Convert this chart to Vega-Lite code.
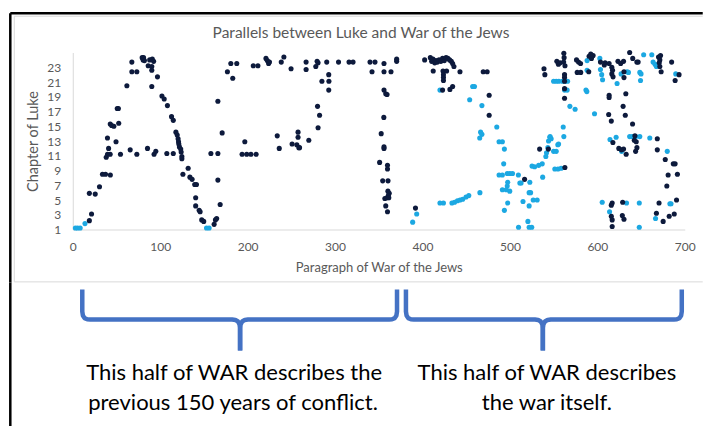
{
"$schema": "https://vega.github.io/schema/vega-lite/v6.json",
"background": "white",
"padding": {"left": 8.75, "top": 11.5, "right": 0, "bottom": 0},
"config": {"view": {"stroke": null}, "font": "Lato"},
"spacing": -4,
"vconcat": [
{
"width": 612, "height": 177,
"encoding": {
"x": {"field": "x", "type": "quantitative", "scale": {"domain": [0, 700], "nice": false},
 "axis": {"values": [0,100,200,300,400,500,600,700], "title": "Paragraph of War of the Jews", "grid": false, "ticks": false, "labelFlush": false, "labelOverlap": false, "domainColor": "#d9d9d9", "domainWidth": 1, "labelColor": "#595959", "labelFontSize": 12, "labelPadding": 12, "labelFont": "Lato", "titleColor": "#595959", "titleFontSize": 13, "titleFontWeight": "normal", "titleFont": "Lato", "titlePadding": 9}},
"y": {"field": "y", "type": "quantitative", "scale": {"domain": [1, 25], "nice": false, "zero": false},
 "axis": {"values": [1,3,5,7,9,11,13,15,17,19,21,23], "title": "Chapter of Luke", "grid": false, "ticks": false, "labelFlush": false, "labelOverlap": false, "domainColor": "#d9d9d9", "domainWidth": 1, "labelColor": "#595959", "labelFontSize": 12, "labelPadding": 12, "labelFont": "Lato", "titleColor": "#595959", "titleFontSize": 14.5, "titleFontWeight": "normal", "titleFont": "Lato", "titlePadding": 6}}
},
"layer": [
{
"data": {"values": [
{"x":-66.86,"x2":720.57,"y":29.92,"y2":29.92},
{"x":-66.86,"x2":720.57,"y":-6.1,"y2":-6.1},
{"x":-66.86,"x2":-66.86,"y":29.92,"y2":-6.1}
]},
"mark": {"type": "rule", "color": "#d9d9d9", "strokeWidth": 1},
"encoding": {"x2": {"field": "x2"}, "y2": {"field": "y2"}}
},
{
"data": {"values": [
{"x":-71.43,"x2":720.57,"y":30.33,"y2":30.33},
{"x":-71.43,"x2":-71.43,"y":30.33,"y2":-6.2}
]},
"mark": {"type": "rule", "color": "#000000", "strokeWidth": 2.5},
"encoding": {"x2": {"field": "x2"}, "y2": {"field": "y2"}}
},
{
"data": {"values": [
{"x":329.7,"y":27.6,"t":"Parallels between Luke and War of the Jews"}
]},
"mark": {"type": "text", "fontSize": 15.5, "font": "Lato", "color": "#595959", "align": "center", "baseline": "middle"},
"encoding": {"text": {"field": "t"}}
},
{
"data": {"values": [
{"x":3,"y":1.2,"s":"l"},{"x":5.5,"y":1.2,"s":"l"},{"x":8.5,"y":1.2,"s":"l"},{"x":14,"y":1.8,"s":"l"},{"x":153,"y":1.2,"s":"l"},{"x":156,"y":1.2,"s":"l"},
{"x":388.8,"y":2.0,"s":"l"},{"x":393.4,"y":3.1,"s":"l"},
{"x":420,"y":19.9,"s":"l"},{"x":457.4,"y":20.4,"s":"l"},{"x":459.5,"y":20.4,"s":"l"},{"x":454,"y":18.6,"s":"l"},{"x":468,"y":17.8,"s":"l"},{"x":485,"y":14.9,"s":"l"},{"x":466.5,"y":14.2,"s":"l"},{"x":468,"y":13.9,"s":"l"},{"x":465.5,"y":13.4,"s":"l"},{"x":487.6,"y":12.9,"s":"l"},{"x":491.4,"y":12.9,"s":"l"},{"x":493.7,"y":11.9,"s":"l"},{"x":492.9,"y":9.9,"s":"l"},{"x":487.6,"y":8.4,"s":"l"},{"x":491.4,"y":8.4,"s":"l"},{"x":497,"y":8.6,"s":"l"},{"x":500,"y":8.6,"s":"l"},{"x":503,"y":8.6,"s":"l"},{"x":509.7,"y":8.4,"s":"l"},{"x":512.8,"y":7.3,"s":"l"},{"x":511.4,"y":7.3,"s":"l"},{"x":497.5,"y":7.4,"s":"l"},{"x":497,"y":6.9,"s":"l"},{"x":495.8,"y":6.4,"s":"l"},{"x":491.4,"y":6.4,"s":"l"},{"x":499.8,"y":6.2,"s":"l"},{"x":465.7,"y":6.0,"s":"l"},{"x":420,"y":4.6,"s":"l"},{"x":424,"y":4.6,"s":"l"},{"x":433.7,"y":4.6,"s":"l"},{"x":436.7,"y":4.7,"s":"l"},{"x":440,"y":4.9,"s":"l"},{"x":443,"y":5.0,"s":"l"},{"x":446,"y":5.1,"s":"l"},{"x":449.8,"y":5.4,"s":"l"},{"x":453,"y":5.6,"s":"l"},{"x":497.5,"y":4.6,"s":"l"},{"x":493.7,"y":3.6,"s":"l"},{"x":509.9,"y":1.3,"s":"l"},{"x":515,"y":4.8,"s":"l"},{"x":522,"y":6.0,"s":"l"},{"x":523.7,"y":6.0,"s":"l"},{"x":522.8,"y":7.4,"s":"l"},{"x":522,"y":4.2,"s":"l"},{"x":520.6,"y":2.1,"s":"l"},{"x":522,"y":1.3,"s":"l"},{"x":525,"y":1.3,"s":"l"},{"x":526.7,"y":5.0,"s":"l"},{"x":531.2,"y":5.0,"s":"l"},{"x":525.3,"y":9.6,"s":"l"},{"x":528.3,"y":9.5,"s":"l"},{"x":532.9,"y":9.7,"s":"l"},{"x":537,"y":9.9,"s":"l"},{"x":537.5,"y":8.1,"s":"l"},{"x":541.1,"y":10.9,"s":"l"},{"x":541.9,"y":11.4,"s":"l"},{"x":543.4,"y":12.1,"s":"l"},{"x":544.2,"y":13.0,"s":"l"},{"x":547.2,"y":13.3,"s":"l"},{"x":545.7,"y":13.5,"s":"l"},{"x":550,"y":11.6,"s":"l"},{"x":553,"y":11.6,"s":"l"},{"x":551.4,"y":9.2,"s":"l"},{"x":555,"y":9.2,"s":"l"},{"x":558.6,"y":9.3,"s":"l"},{"x":554.8,"y":12.5,"s":"l"},{"x":546,"y":13.6,"s":"l"},{"x":555.7,"y":12.6,"s":"l"},{"x":561,"y":14.9,"s":"l"},{"x":561.7,"y":13.6,"s":"l"},
{"x":550,"y":21.1,"s":"l"},{"x":553,"y":21.1,"s":"l"},{"x":556,"y":21.1,"s":"l"},{"x":560,"y":21.1,"s":"l"},{"x":563,"y":21.1,"s":"l"},{"x":566,"y":21.1,"s":"l"},{"x":562.5,"y":19.9,"s":"l"},{"x":565.5,"y":19.9,"s":"l"},{"x":568.6,"y":17.7,"s":"l"},{"x":574.6,"y":17.3,"s":"l"},{"x":587,"y":19.9,"s":"l"},{"x":588,"y":19.7,"s":"l"},{"x":596.8,"y":16.7,"s":"l"},{"x":588.3,"y":23.9,"s":"l"},{"x":602.9,"y":24.2,"s":"l"},{"x":588.3,"y":22.6,"s":"l"},{"x":603.6,"y":22.7,"s":"l"},{"x":605,"y":22.0,"s":"l"},{"x":606,"y":21.3,"s":"l"},{"x":622.6,"y":20.8,"s":"l"},{"x":627.2,"y":22.1,"s":"l"},{"x":634,"y":22.4,"s":"l"},{"x":635.6,"y":22.3,"s":"l"},{"x":648.6,"y":22.3,"s":"l"},{"x":650,"y":22.1,"s":"l"},{"x":649.4,"y":21.2,"s":"l"},{"x":653,"y":24.7,"s":"l"},{"x":662.3,"y":24.7,"s":"l"},{"x":663.8,"y":23.7,"s":"l"},{"x":666,"y":23.4,"s":"l"},{"x":667.6,"y":23.1,"s":"l"},{"x":689.7,"y":22.1,"s":"l"},{"x":614.5,"y":13.2,"s":"l"},{"x":621.5,"y":13.5,"s":"l"},{"x":637,"y":13.6,"s":"l"},{"x":640,"y":13.6,"s":"l"},{"x":644,"y":13.6,"s":"l"},{"x":648.6,"y":13.6,"s":"l"},{"x":660,"y":13.4,"s":"l"},{"x":680,"y":11.6,"s":"l"},{"x":627.8,"y":11.6,"s":"l"},{"x":605.6,"y":4.7,"s":"l"},{"x":614,"y":3.4,"s":"l"},{"x":633.4,"y":4.6,"s":"l"},{"x":648,"y":4.6,"s":"l"},{"x":666.6,"y":2.5,"s":"l"},{"x":683,"y":4.5,"s":"l"},{"x":684.3,"y":4.5,"s":"l"},{"x":648,"y":1.3,"s":"l"},
{"x":19,"y":2.2,"s":"d"},{"x":21.5,"y":3.1,"s":"d"},{"x":19,"y":5.9,"s":"d"},{"x":25.7,"y":5.8,"s":"d"},{"x":30.6,"y":6.8,"s":"d"},{"x":34,"y":8.5,"s":"d"},{"x":37.5,"y":8.5,"s":"d"},{"x":43,"y":8.4,"s":"d"},{"x":38.3,"y":10.8,"s":"d"},{"x":39.8,"y":11.2,"s":"d"},{"x":42.8,"y":11.2,"s":"d"},{"x":41,"y":12,"s":"d"},{"x":39.7,"y":13.4,"s":"d"},{"x":42.9,"y":15.3,"s":"d"},{"x":44.5,"y":15.1,"s":"d"},{"x":47,"y":15,"s":"d"},{"x":52.6,"y":15.4,"s":"d"},{"x":50.9,"y":17.4,"s":"d"},{"x":52.2,"y":17.4,"s":"d"},{"x":49.5,"y":12.9,"s":"d"},{"x":54.6,"y":11.2,"s":"d"},{"x":61.9,"y":20.5,"s":"d"},{"x":67.6,"y":23.7,"s":"d"},{"x":67.6,"y":22.4,"s":"d"},{"x":73.3,"y":22.4,"s":"d"},{"x":65.7,"y":11.8,"s":"d"},{"x":73.3,"y":11.2,"s":"d"},{"x":79.4,"y":24.3,"s":"d"},{"x":81,"y":24.3,"s":"d"},{"x":80.5,"y":24,"s":"d"},{"x":82,"y":23.9,"s":"d"},{"x":86.3,"y":23.2,"s":"d"},{"x":88,"y":24,"s":"d"},{"x":91,"y":24.1,"s":"d"},{"x":92.5,"y":23.8,"s":"d"},{"x":90.4,"y":23.1,"s":"d"},{"x":90.4,"y":22.6,"s":"d"},{"x":96.9,"y":21.7,"s":"d"},{"x":90.4,"y":20.4,"s":"d"},{"x":85.5,"y":12,"s":"d"},{"x":93,"y":11.2,"s":"d"},{"x":95,"y":11.6,"s":"d"},{"x":102,"y":19.1,"s":"d"},{"x":104.6,"y":18.7,"s":"d"},{"x":108.3,"y":17.8,"s":"d"},{"x":107.6,"y":11.3,"s":"d"},{"x":113,"y":16.3,"s":"d"},{"x":115,"y":15.8,"s":"d"},{"x":115,"y":11.3,"s":"d"},{"x":118,"y":14.2,"s":"d"},{"x":119.5,"y":13.8,"s":"d"},{"x":120.5,"y":13.3,"s":"d"},{"x":121,"y":12.9,"s":"d"},{"x":121.3,"y":12.6,"s":"d"},{"x":122,"y":12.2,"s":"d"},{"x":123.5,"y":11.9,"s":"d"},{"x":124,"y":11.5,"s":"d"},{"x":124.8,"y":10.9,"s":"d"},{"x":124.8,"y":10.6,"s":"d"},{"x":126,"y":8.5,"s":"d"},{"x":132,"y":9.3,"s":"d"},{"x":134,"y":8.1,"s":"d"},{"x":136.5,"y":7.8,"s":"d"},{"x":139.5,"y":7.1,"s":"d"},{"x":141.5,"y":7.1,"s":"d"},{"x":140.6,"y":5.3,"s":"d"},{"x":140.6,"y":4.2,"s":"d"},{"x":144.6,"y":3.6,"s":"d"},{"x":145.7,"y":3.4,"s":"d"},{"x":147.5,"y":2.3,"s":"d"},{"x":149.8,"y":2.1,"s":"d"},{"x":161.7,"y":1.7,"s":"d"},{"x":163.2,"y":2.3,"s":"d"},{"x":164.6,"y":2.5,"s":"d"},{"x":168.6,"y":4.4,"s":"d"},{"x":166,"y":7.7,"s":"d"},{"x":158,"y":11.3,"s":"d"},{"x":166,"y":11.3,"s":"d"},{"x":166,"y":18.4,"s":"d"},{"x":170.9,"y":14.1,"s":"d"},{"x":176.9,"y":22.4,"s":"d"},{"x":180.8,"y":23.5,"s":"d"},{"x":187.6,"y":23.5,"s":"d"},{"x":183,"y":21.5,"s":"d"},
{"x":206.5,"y":23.2,"s":"d"},{"x":211.8,"y":23.2,"s":"d"},{"x":221,"y":24.2,"s":"d"},{"x":222.5,"y":23.9,"s":"d"},{"x":224,"y":23.5,"s":"d"},{"x":225,"y":23.7,"s":"d"},{"x":241.5,"y":24.4,"s":"d"},{"x":238.5,"y":23.7,"s":"d"},{"x":249.7,"y":22.8,"s":"d"},{"x":266.9,"y":23.7,"s":"d"},{"x":266.9,"y":22.7,"s":"d"},{"x":278,"y":23.1,"s":"d"},{"x":279.5,"y":23.8,"s":"d"},{"x":280.6,"y":23.6,"s":"d"},{"x":290.5,"y":23.7,"s":"d"},{"x":285,"y":21.1,"s":"d"},{"x":293,"y":21.1,"s":"d"},{"x":292.8,"y":22.0,"s":"d"},{"x":292.8,"y":19.9,"s":"d"},{"x":304,"y":23.7,"s":"d"},{"x":316,"y":23.7,"s":"d"},{"x":320.6,"y":23.7,"s":"d"},{"x":340,"y":23.7,"s":"d"},{"x":345.7,"y":23.7,"s":"d"},{"x":356,"y":23.5,"s":"d"},{"x":370.5,"y":23.8,"s":"d"},{"x":370.5,"y":24.1,"s":"d"},{"x":342.3,"y":22.4,"s":"d"},{"x":356,"y":22.4,"s":"d"},{"x":364,"y":22.4,"s":"d"},{"x":356,"y":19.9,"s":"d"},{"x":358,"y":19.4,"s":"d"},{"x":359.5,"y":19.3,"s":"d"},{"x":355.8,"y":16.2,"s":"d"},{"x":352.8,"y":14,"s":"d"},{"x":356,"y":12,"s":"d"},{"x":356,"y":12.2,"s":"d"},{"x":351,"y":10.1,"s":"d"},{"x":360,"y":9.7,"s":"d"},{"x":360,"y":9.2,"s":"d"},{"x":354.5,"y":7.6,"s":"d"},{"x":360.6,"y":7.6,"s":"d"},{"x":360.5,"y":6.2,"s":"d"},{"x":362,"y":5.9,"s":"d"},{"x":361,"y":5.6,"s":"d"},{"x":359.5,"y":5.3,"s":"d"},{"x":357,"y":5.2,"s":"d"},{"x":361.5,"y":5.3,"s":"d"},{"x":358,"y":4.2,"s":"d"},{"x":360,"y":3.4,"s":"d"},{"x":280,"y":17.7,"s":"d"},{"x":282.3,"y":16.5,"s":"d"},{"x":280.6,"y":14.8,"s":"d"},{"x":270,"y":13.1,"s":"d"},{"x":257.7,"y":14.2,"s":"d"},{"x":257.7,"y":13.5,"s":"d"},{"x":250.9,"y":12.6,"s":"d"},{"x":256.3,"y":12.5,"s":"d"},{"x":258.6,"y":12.1,"s":"d"},{"x":259.4,"y":12.1,"s":"d"},{"x":233.9,"y":13.7,"s":"d"},{"x":236.2,"y":12.0,"s":"d"},{"x":196.8,"y":12.9,"s":"d"},{"x":193.7,"y":11.2,"s":"d"},{"x":199,"y":11.2,"s":"d"},{"x":203.8,"y":11.2,"s":"d"},{"x":209.7,"y":11.2,"s":"d"},
{"x":402.5,"y":24.0,"s":"d"},{"x":409,"y":24.3,"s":"d"},{"x":410.5,"y":23.8,"s":"d"},{"x":412,"y":24.1,"s":"d"},{"x":414,"y":23.6,"s":"d"},{"x":415.5,"y":23.9,"s":"d"},{"x":417,"y":23.7,"s":"d"},{"x":419,"y":24.0,"s":"d"},{"x":421,"y":23.8,"s":"d"},{"x":423,"y":24.2,"s":"d"},{"x":425,"y":23.9,"s":"d"},{"x":427,"y":24.3,"s":"d"},{"x":429,"y":24.2,"s":"d"},{"x":431,"y":24.0,"s":"d"},{"x":433,"y":23.8,"s":"d"},{"x":434.5,"y":23.5,"s":"d"},{"x":436,"y":23.1,"s":"d"},{"x":412.3,"y":22.5,"s":"d"},{"x":423.5,"y":22.5,"s":"d"},{"x":424,"y":22.0,"s":"d"},{"x":424,"y":21.6,"s":"d"},{"x":424,"y":21.2,"s":"d"},{"x":427.6,"y":22.5,"s":"d"},{"x":442.9,"y":22.4,"s":"d"},{"x":469.5,"y":22.4,"s":"d"},{"x":474,"y":22.4,"s":"d"},{"x":423,"y":19.9,"s":"d"},{"x":431.4,"y":20.0,"s":"d"},{"x":434.5,"y":20.4,"s":"d"},{"x":476.3,"y":19.2,"s":"d"},{"x":476.3,"y":16.5,"s":"d"},{"x":539,"y":22.8,"s":"d"},{"x":540,"y":22.0,"s":"d"},{"x":534,"y":11.9,"s":"d"},{"x":544,"y":11.9,"s":"d"},{"x":516.8,"y":7.8,"s":"d"},{"x":392,"y":3.9,"s":"d"},
{"x":553.7,"y":23.8,"s":"d"},{"x":555.5,"y":23.4,"s":"d"},{"x":557.4,"y":23.6,"s":"d"},{"x":561.7,"y":24.9,"s":"d"},{"x":562,"y":24.3,"s":"d"},{"x":561.5,"y":23.7,"s":"d"},{"x":563,"y":23.2,"s":"d"},{"x":562.5,"y":22.0,"s":"d"},{"x":562.5,"y":21.6,"s":"d"},{"x":562.5,"y":21.1,"s":"d"},{"x":562.5,"y":20.1,"s":"d"},{"x":562.5,"y":18.8,"s":"d"},{"x":576.2,"y":24.0,"s":"d"},{"x":578.5,"y":23.7,"s":"d"},{"x":580.8,"y":23.5,"s":"d"},{"x":577,"y":22.3,"s":"d"},{"x":581,"y":22.3,"s":"d"},{"x":590.6,"y":24.5,"s":"d"},{"x":592.5,"y":24.8,"s":"d"},{"x":593.3,"y":24.2,"s":"d"},{"x":595.2,"y":24.6,"s":"d"},{"x":590.2,"y":22.4,"s":"d"},{"x":603.6,"y":23.7,"s":"d"},{"x":608.9,"y":23.6,"s":"d"},{"x":613.5,"y":23.5,"s":"d"},{"x":608,"y":23.3,"s":"d"},{"x":616.6,"y":23.0,"s":"d"},{"x":617.4,"y":22.6,"s":"d"},{"x":616.6,"y":22.1,"s":"d"},{"x":618,"y":21.7,"s":"d"},{"x":623.6,"y":23.8,"s":"d"},{"x":626.7,"y":23.5,"s":"d"},{"x":630,"y":23.8,"s":"d"},{"x":630.5,"y":22.4,"s":"d"},{"x":630.5,"y":21.6,"s":"d"},{"x":637,"y":25.0,"s":"d"},{"x":640.5,"y":24.2,"s":"d"},{"x":645.2,"y":23.7,"s":"d"},{"x":646.7,"y":23.7,"s":"d"},{"x":613.5,"y":19.2,"s":"d"},{"x":613.5,"y":18.9,"s":"d"},{"x":632.6,"y":19.4,"s":"d"},{"x":629.5,"y":17.7,"s":"d"},{"x":632,"y":16.5,"s":"d"},{"x":613,"y":16.6,"s":"d"},{"x":616,"y":15.7,"s":"d"},{"x":640.3,"y":15.3,"s":"d"},{"x":643,"y":13.7,"s":"d"},{"x":642.3,"y":13.1,"s":"d"},{"x":644.5,"y":12.9,"s":"d"},{"x":645.3,"y":12.1,"s":"d"},{"x":643.8,"y":11.6,"s":"d"},{"x":617.8,"y":12.8,"s":"d"},{"x":624.6,"y":12.0,"s":"d"},{"x":627.6,"y":11.8,"s":"d"},{"x":630,"y":11.9,"s":"d"},{"x":633,"y":11.2,"s":"d"},{"x":668.6,"y":13.3,"s":"d"},{"x":668.6,"y":11.8,"s":"d"},{"x":677.7,"y":10.5,"s":"d"},{"x":686.9,"y":9.9,"s":"d"},{"x":689,"y":9.9,"s":"d"},{"x":681,"y":8.4,"s":"d"},{"x":691.6,"y":8.5,"s":"d"},{"x":679.5,"y":6.9,"s":"d"},{"x":670,"y":24.4,"s":"d"},{"x":672.3,"y":24.6,"s":"d"},{"x":671.5,"y":24.0,"s":"d"},{"x":670.8,"y":23.6,"s":"d"},{"x":671.5,"y":23.1,"s":"d"},{"x":673,"y":22.4,"s":"d"},{"x":685,"y":23.7,"s":"d"},{"x":693.5,"y":22.0,"s":"d"},{"x":689,"y":21.2,"s":"d"},{"x":562.9,"y":9.4,"s":"d"},{"x":617,"y":4.6,"s":"d"},{"x":616,"y":4.3,"s":"d"},{"x":616,"y":2.8,"s":"d"},{"x":617,"y":2.3,"s":"d"},{"x":617,"y":1.4,"s":"d"},{"x":629,"y":4.7,"s":"d"},{"x":628.6,"y":2.9,"s":"d"},{"x":630.5,"y":2.4,"s":"d"},{"x":670.6,"y":4.6,"s":"d"},{"x":667.6,"y":3.2,"s":"d"},{"x":675.3,"y":2.1,"s":"d"},{"x":682.2,"y":2.8,"s":"d"},{"x":688,"y":3.1,"s":"d"},{"x":690.6,"y":5.0,"s":"d"}
]},
"mark": {"type": "circle", "size": 26, "opacity": 1},
"encoding": {
"color": {"field": "s", "type": "nominal", "scale": {"domain": ["d", "l"], "range": ["#0d1a3c", "#1ca8e2"]}, "legend": null}
}
}
]
},
{
"width": 612, "height": 136,
"encoding": {
"x": {"field": "x", "type": "quantitative", "scale": {"domain": [0, 700], "nice": false}, "axis": null},
"y": {"field": "y", "type": "quantitative", "scale": {"domain": [0, 136], "nice": false, "zero": false, "reverse": true}, "axis": null}
},
"layer": [
{
"data": {"values": [
{"x":-71.43,"y":-4,"y2":142}
]},
"mark": {"type": "rule", "color": "#000000", "strokeWidth": 2.5},
"encoding": {"y2": {"field": "y2"}}
},
{
"data": {"values": [
{"b":"L1","i":1,"x":10.9,"y":3},{"b":"L1","i":2,"x":10.9,"y":25},{"b":"L1","i":3,"x":11.6,"y":29},{"b":"L1","i":4,"x":13.5,"y":31.6},{"b":"L1","i":5,"x":16.5,"y":32.7},{"b":"L1","i":6,"x":20,"y":33},{"b":"L1","i":7,"x":182.4,"y":33},{"b":"L1","i":8,"x":186,"y":33.4},{"b":"L1","i":9,"x":189,"y":35},{"b":"L1","i":10,"x":190.8,"y":38},{"b":"L1","i":11,"x":191.4,"y":42},{"b":"L1","i":12,"x":191.4,"y":64},
{"b":"L2","i":1,"x":370.9,"y":3},{"b":"L2","i":2,"x":370.9,"y":25},{"b":"L2","i":3,"x":370.2,"y":29},{"b":"L2","i":4,"x":368.3,"y":31.6},{"b":"L2","i":5,"x":365.3,"y":32.7},{"b":"L2","i":6,"x":361.8,"y":33},{"b":"L2","i":7,"x":200.4,"y":33},{"b":"L2","i":8,"x":196.8,"y":33.4},{"b":"L2","i":9,"x":193.8,"y":35},{"b":"L2","i":10,"x":192,"y":38},{"b":"L2","i":11,"x":191.4,"y":42},{"b":"L2","i":12,"x":191.4,"y":64},
{"b":"R1","i":1,"x":381.1,"y":3},{"b":"R1","i":2,"x":381.1,"y":25},{"b":"R1","i":3,"x":381.8,"y":29},{"b":"R1","i":4,"x":383.7,"y":31.6},{"b":"R1","i":5,"x":386.7,"y":32.7},{"b":"R1","i":6,"x":390.2,"y":33},{"b":"R1","i":7,"x":528.7,"y":33},{"b":"R1","i":8,"x":532.3,"y":33.4},{"b":"R1","i":9,"x":535.3,"y":35},{"b":"R1","i":10,"x":537.1,"y":38},{"b":"R1","i":11,"x":537.7,"y":42},{"b":"R1","i":12,"x":537.7,"y":64},
{"b":"R2","i":1,"x":696.6,"y":3},{"b":"R2","i":2,"x":696.6,"y":25},{"b":"R2","i":3,"x":695.9,"y":29},{"b":"R2","i":4,"x":694,"y":31.6},{"b":"R2","i":5,"x":691,"y":32.7},{"b":"R2","i":6,"x":687.5,"y":33},{"b":"R2","i":7,"x":546.7,"y":33},{"b":"R2","i":8,"x":543.1,"y":33.4},{"b":"R2","i":9,"x":540.1,"y":35},{"b":"R2","i":10,"x":538.3,"y":38},{"b":"R2","i":11,"x":537.7,"y":42},{"b":"R2","i":12,"x":537.7,"y":64}
]},
"mark": {"type": "line", "color": "#4472c4", "strokeWidth": 4.5, "strokeJoin": "round", "strokeCap": "butt", "clip": false},
"encoding": {"detail": {"field": "b"}, "order": {"field": "i"}}
},
{
"data": {"values": [
{"x":184.6,"y":86,"t":"This half of WAR describes the"},
{"x":183.4,"y":116,"t":"previous 150 years of conflict."},
{"x":542.3,"y":86,"t":"This half of WAR describes"},
{"x":542.3,"y":116,"t":"the war itself."}
]},
"mark": {"type": "text", "fontSize": 22, "font": "Lato", "color": "#000000", "baseline": "middle", "align": "center"},
"encoding": {"text": {"field": "t"}}
}
]
}
]
}
